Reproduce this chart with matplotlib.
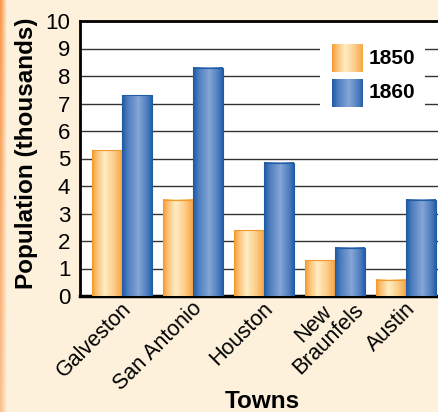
import numpy as np
import matplotlib
matplotlib.use("Agg")
import matplotlib.pyplot as plt
from matplotlib.colors import LinearSegmentedColormap
from matplotlib.patches import Rectangle
from matplotlib.transforms import ScaledTranslation
from matplotlib import font_manager

towns = ["Galveston", "San Antonio", "Houston", "New\nBraunfels", "Austin"]
pop_1850 = [5.3, 3.5, 2.4, 1.3, 0.6]
pop_1860 = [7.3, 8.3, 4.85, 1.75, 3.5]
series_labels = ["1850", "1860"]
y_ticks = list(range(0, 11))

plt.rcParams['font.family'] = ['Liberation Sans', 'DejaVu Sans']

try:
    font_manager.findfont(font_manager.FontProperties(family="Liberation Sans Narrow"),
                          fallback_to_default=False)
    NARROW = "Liberation Sans Narrow"
    XT_SIZE = 19
except Exception:
    NARROW = "Liberation Sans"
    XT_SIZE = 15.5

BG = "#FDF1DC"
fig = plt.figure(figsize=(4.38, 4.12), dpi=100, facecolor=BG)

# left orange strip
strip = fig.add_axes([0, 0, 12 / 438, 1])
strip.set_axis_off()
sx = np.linspace(0, 1, 64)
sy = np.linspace(0, 1, 64)
XX, YY = np.meshgrid(sx, sy)
c_or = np.array([0.97, 0.58, 0.27])
c_bg = np.array(matplotlib.colors.to_rgb(BG))
w = np.clip(1 - XX / 0.55, 0, 1) ** 0.8 * (0.55 + 0.45 * YY)
img = c_bg[None, None, :] * (1 - w[..., None]) + c_or[None, None, :] * w[..., None]
strip.imshow(img, extent=[0, 1, 0, 1], origin="lower", aspect="auto")
strip.set_xlim(0, 1)
strip.set_ylim(0, 1)

ax = fig.add_axes([80 / 438, (412 - 296) / 412, 364 / 438, 275 / 412])
ax.set_facecolor("white")

x = np.arange(len(towns))
bw = 0.42
b1 = ax.bar(x - bw / 2, pop_1850, width=bw, color="none", edgecolor="#F39A2E", linewidth=0.8, zorder=4)
b2 = ax.bar(x + bw / 2, pop_1860, width=bw, color="none", edgecolor="#1F5CA3", linewidth=0.8, zorder=4)

cmap_or = LinearSegmentedColormap.from_list("or", [
    (0.0, "#F7992F"), (0.15, "#FBBF70"), (0.42, "#FFEDC4"), (0.75, "#FCCB85"), (1.0, "#F8A443")])
cmap_bl = LinearSegmentedColormap.from_list("bl", [
    (0.0, "#1C5AA3"), (0.2, "#4F7FC0"), (0.55, "#86A6D6"), (0.85, "#4E7CBE"), (1.0, "#2460AA")])
grad = np.linspace(0, 1, 128)[None, :]
for bars, cm in ((b1, cmap_or), (b2, cmap_bl)):
    for p in bars:
        x0, w_, h = p.get_x(), p.get_width(), p.get_height()
        ax.imshow(grad, cmap=cm, extent=[x0, x0 + w_, 0, h], aspect="auto", zorder=3,
                  interpolation="bilinear")

ax.set_xlim(-0.592, 4.535)
ax.set_ylim(0, 10)
ax.set_yticks(y_ticks)
ax.set_yticklabels([str(t) for t in y_ticks], fontsize=16)
ax.yaxis.grid(True, color="#333333", linewidth=1.0, zorder=1)
ax.set_axisbelow(True)
ax.tick_params(axis="y", length=0, pad=7)
ax.tick_params(axis="x", length=0, pad=2)
ax.set_xticks(x)
ax.set_xticklabels(towns, rotation=45, ha="right", va="center", rotation_mode="anchor",
                   fontsize=XT_SIZE, family=NARROW, multialignment="center", linespacing=1.0)
for lab in ax.get_xticklabels():
    dx, dy = 6, -7
    if "\n" in lab.get_text():
        dx, dy = 6 + 12, -7 + 6
    off = ScaledTranslation(dx / 100, dy / 100, fig.dpi_scale_trans)
    lab.set_transform(lab.get_transform() + off)

for s in ["left", "bottom", "top"]:
    ax.spines[s].set_color("black")
ax.spines["left"].set_linewidth(2)
ax.spines["bottom"].set_linewidth(2.5)
ax.spines["top"].set_linewidth(2)
ax.spines["right"].set_visible(False)

ax.set_ylabel("Population (thousands)", fontsize=17.5, fontweight="bold")
ax.yaxis.set_label_coords(-(80 - 38) / 364, 0.52)
ax.set_xlabel("Towns", fontsize=17.5, fontweight="bold", va="center")
ax.xaxis.set_label_coords(0.5, (296 - 402) / 275)

# legend (manual, in axes fraction)
def fx(px):
    return (px - 80) / 364
def fy(py):
    return (296 - py) / 275

ax.add_patch(Rectangle((fx(320), fy(112)), fx(425) - fx(320), fy(38) - fy(112),
                       transform=ax.transAxes, facecolor="white", edgecolor="none", zorder=5))
for (top, bot), lab, cm in (((44, 72), series_labels[0], cmap_or), ((79, 107), series_labels[1], cmap_bl)):
    ax.imshow(grad, cmap=cm, extent=[fx(332), fx(363), fy(bot), fy(top)], aspect="auto",
              transform=ax.transAxes, zorder=6, interpolation="bilinear")
    ax.text(fx(369), fy((top + bot) / 2), lab, transform=ax.transAxes, fontsize=15,
            fontweight="bold", va="center", ha="left", zorder=7)

fig.savefig("out.png", dpi=100, facecolor=BG)
